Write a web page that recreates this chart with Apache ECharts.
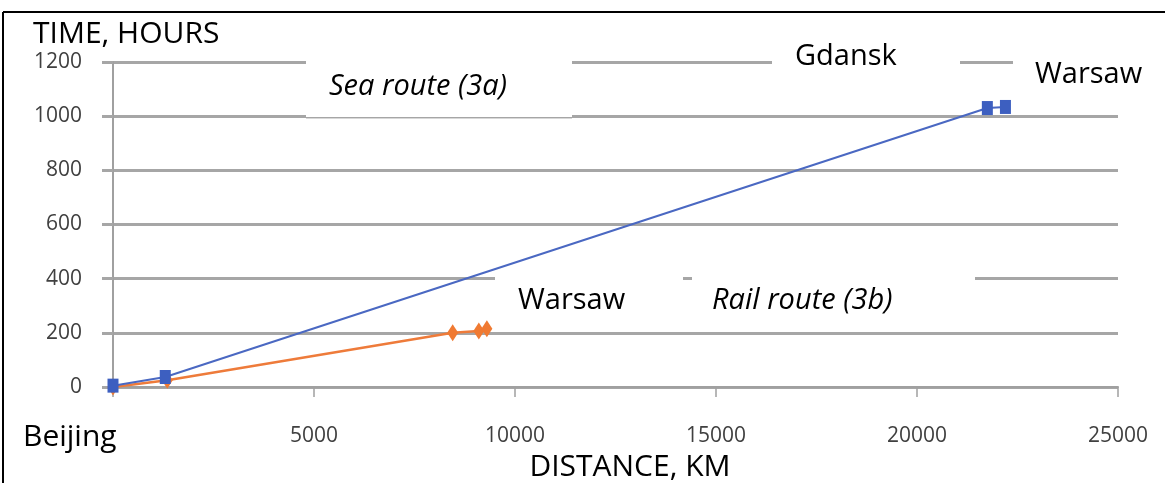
<!DOCTYPE html>
<html lang="en">
<head>
    <meta charset="UTF-8">
    <script src="https://cdn.jsdelivr.net/npm/echarts@6/dist/echarts.min.js"></script>
    <title>Sea vs rail route</title>
    <style>
        html, body { margin: 0; padding: 0; background: #fff; }
    </style>
</head>
<body>
<div id="main" style="width: 1165px;height:483px;"></div>
<script type="text/javascript">
    // distance (km) / time (hours)
    var seaDistance = [0, 1300, 21750, 22200];
    var seaHours = [5, 37, 1030, 1034];
    var railDistance = [0, 1350, 8450, 9100, 9300];
    var railHours = [0, 25, 200, 207, 215];

    var xTitle = 'DISTANCE, KM';
    var yTitle = 'TIME, HOURS';
    var originLabel = 'Beijing';
    var notes = ['Sea route (3a)', 'Gdansk', 'Warsaw', 'Warsaw', 'Rail route (3b)'];

    function pairs(xs, ys) {
        var out = [];
        for (var i = 0; i < xs.length; i++) out.push([xs[i], ys[i]]);
        return out;
    }

    var font = '"Open Sans", sans-serif';
    var myChart = echarts.init(document.getElementById('main'));

    var option = {
        animation: false,
        grid: { left: 113, right: 47, top: 62, bottom: 96 },
        xAxis: {
            type: 'value',
            min: 0, max: 25000, interval: 5000,
            axisLine: { show: true, onZero: false, lineStyle: { color: '#a0a0a0', width: 2 } },
            axisTick: { show: true, length: 10, lineStyle: { color: '#a0a0a0', width: 1.5 } },
            splitLine: { show: false },
            axisLabel: {
                margin: 39,
                fontFamily: font, fontSize: 21, color: '#404040',
                formatter: function (v) { return v === 0 ? '' : String(v); }
            }
        },
        yAxis: {
            type: 'value',
            min: 0, max: 1200, interval: 200,
            axisLine: { show: true, lineStyle: { color: '#a0a0a0', width: 2 } },
            axisTick: { show: true, length: 11, lineStyle: { color: '#a6a6a6', width: 3 } },
            splitLine: { show: true, lineStyle: { color: '#a6a6a6', width: 3 } },
            axisLabel: {
                margin: 31, fontFamily: font, fontSize: 21, color: '#404040',
                formatter: function (v) { return String(v); }
            }
        },
        series: [
            {
                name: 'Rail',
                type: 'line',
                z: 5,
                data: pairs(railDistance, railHours),
                symbol: 'diamond',
                symbolSize: [11, 17],
                showAllSymbol: true,
                itemStyle: { color: '#f07a32' },
                lineStyle: { color: '#ee7b3a', width: 2.5 }
            },
            {
                name: 'Sea',
                type: 'line',
                z: 6,
                data: pairs(seaDistance, seaHours),
                symbol: 'rect',
                symbolSize: [11, 14],
                showAllSymbol: true,
                itemStyle: { color: '#3d5fc0' },
                lineStyle: { color: '#4a68c2', width: 2 }
            }
        ],
        graphic: [
            // frame
            { type: 'line', z: 20, shape: { x1: 3, y1: 12, x2: 1165, y2: 12 }, style: { stroke: '#000', lineWidth: 2 } },
            { type: 'line', z: 20, shape: { x1: 3, y1: 12, x2: 3, y2: 483 }, style: { stroke: '#000', lineWidth: 2 } },
            // white note boxes over the grid
            { type: 'rect', z: 1, shape: { x: 306, y: 60, width: 266, height: 57 }, style: { fill: '#fff' } },
            { type: 'line', z: 1, shape: { x1: 306, y1: 118.5, x2: 572, y2: 118.5 }, style: { stroke: '#d8d8d8', lineWidth: 1 } },
            { type: 'rect', z: 1, shape: { x: 772, y: 30, width: 188, height: 50 }, style: { fill: '#fff' } },
            { type: 'rect', z: 1, shape: { x: 1013, y: 40, width: 150, height: 72 }, style: { fill: '#fff' } },
            { type: 'rect', z: 1, shape: { x: 495, y: 267, width: 188, height: 63 }, style: { fill: '#fff' } },
            { type: 'rect', z: 1, shape: { x: 692, y: 267, width: 283, height: 63 }, style: { fill: '#fff' } },
            // texts
            { type: 'text', z: 20, style: { text: yTitle, x: 33, y: 34, verticalAlign: 'middle', font: '30px ' + font, fill: '#000' } },
            { type: 'text', z: 20, style: { text: notes[0], x: 329, y: 87, verticalAlign: 'middle', font: 'italic 29px ' + font, fill: '#000' } },
            { type: 'text', z: 20, style: { text: notes[1], x: 795, y: 57, verticalAlign: 'middle', font: '29px ' + font, fill: '#000' } },
            { type: 'text', z: 20, style: { text: notes[2], x: 1035, y: 75, verticalAlign: 'middle', font: '29px ' + font, fill: '#000' } },
            { type: 'text', z: 20, style: { text: notes[3], x: 518, y: 301, verticalAlign: 'middle', font: '29px ' + font, fill: '#000' } },
            { type: 'text', z: 20, style: { text: notes[4], x: 712, y: 301, verticalAlign: 'middle', font: 'italic 29px ' + font, fill: '#000' } },
            { type: 'text', z: 20, style: { text: originLabel, x: 23, y: 437, verticalAlign: 'middle', font: '30px ' + font, fill: '#000' } },
            { type: 'text', z: 20, style: { text: xTitle, x: 630, y: 467, align: 'center', verticalAlign: 'middle', font: '30px ' + font, fill: '#000' } }
        ]
    };
    myChart.setOption(option);
</script>
</body>
</html>
